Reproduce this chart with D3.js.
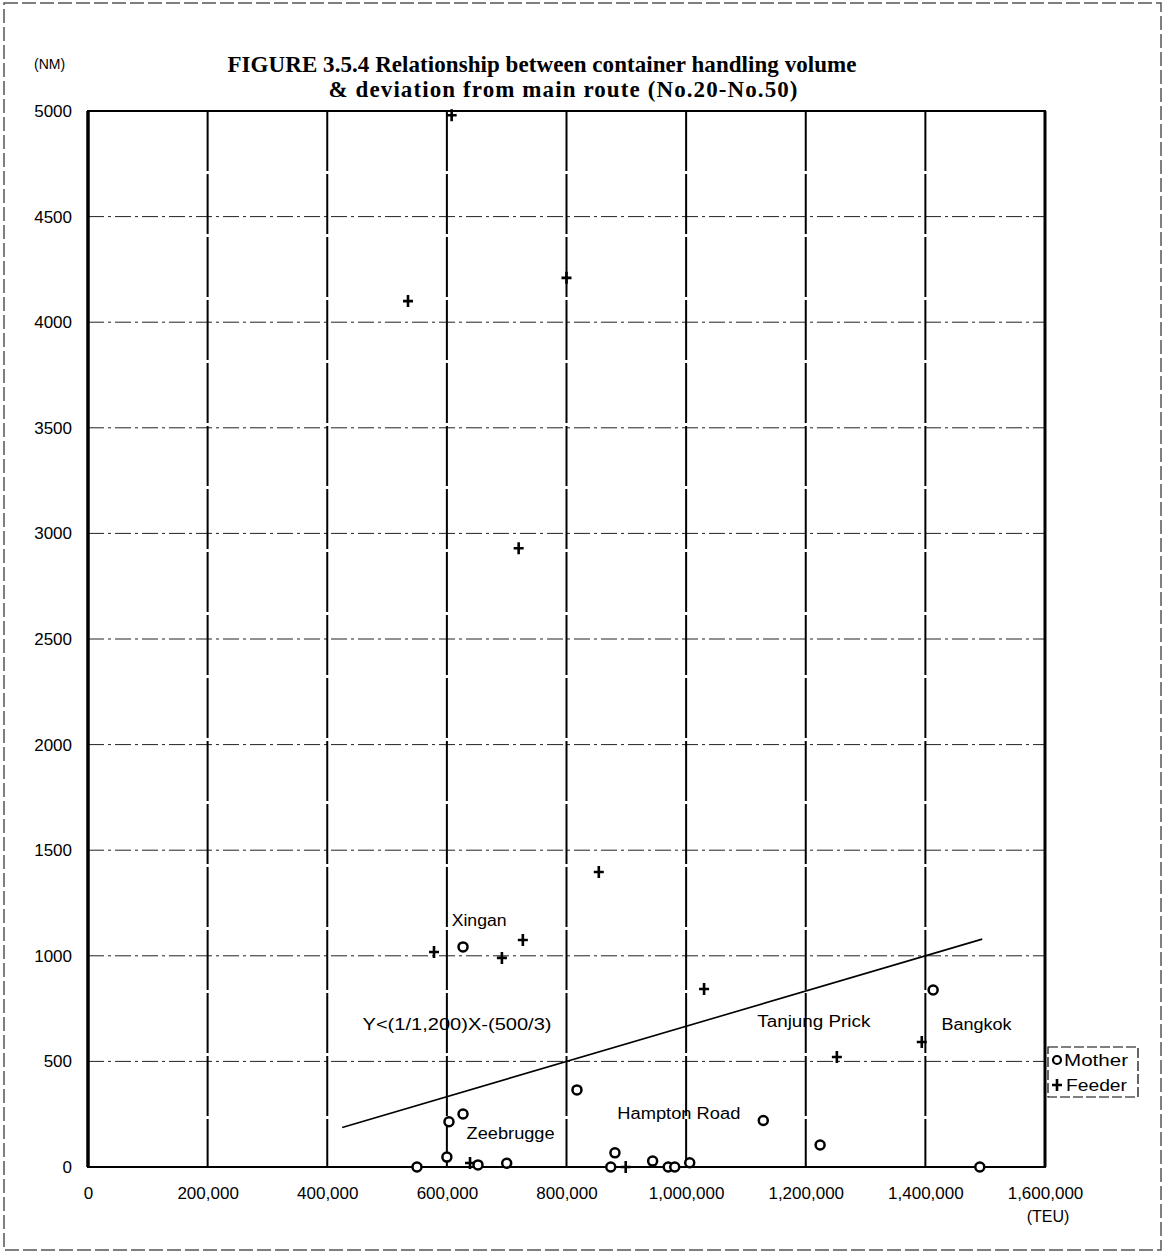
<!DOCTYPE html>
<html>
<head>
<meta charset="utf-8">
<script src="https://cdn.jsdelivr.net/npm/d3@7"></script>
<style>
  html, body { margin: 0; padding: 0; background: #fff; }
  svg { display: block; }
  .tick text { font-family: "Liberation Sans", Arial, sans-serif; }
</style>
</head>
<body>
<svg id="chart" width="1165" height="1253"></svg>
<script>
// values: TEU (x) vs deviation in NM (y)
const motherTEU = [627000, 817500, 603500, 627000, 600000, 550000, 652000, 700000, 881000,
  874000, 944000, 970000, 981000, 1006000, 1129000, 1224000, 1491000, 1413000];
const motherNM = [1042, 365, 214, 251, 47, 0, 10, 18, 67, 0, 28, 0, 0, 20, 220, 104, 0, 838];

const feederTEU = [535000, 608000, 800000, 720000, 854000, 578500, 692000, 727000, 1030000,
  1252000, 1394000, 638700, 899000];
const feederNM = [4100, 4980, 4210, 2930, 1397, 1018, 990, 1075, 843, 521, 592, 19, 0];

// Y<(1/1,200)X-(500/3), end points as drawn
const boundTEU = [425000, 1495000];
const boundNM = [187, 1079];

const xTicks = [0, 200000, 400000, 600000, 800000, 1000000, 1200000, 1400000, 1600000];
const yTicks = [0, 500, 1000, 1500, 2000, 2500, 3000, 3500, 4000, 4500, 5000];

const labelNames = ['Xingan', 'Y<(1/1,200)X-(500/3)', 'Zeebrugge', 'Hampton Road', 'Tanjung Prick', 'Bangkok'];
const labelTEU = [608000, 459000, 633000, 885000, 1119000, 1427000];
const labelNM = [1140, 650, 133, 225, 661, 650];

const title1 = 'FIGURE 3.5.4 Relationship between container handling volume';
const title2 = '& deviation from main route (No.20-No.50)';

const svg = d3.select('#chart');
const sans = '"Liberation Sans", Arial, sans-serif';
const serif = '"Liberation Serif", "Times New Roman", serif';
const plotL = 88, plotR = 1045, plotT = 111, plotB = 1167;
// the scan's label font runs wider than Arial, so stretch to the measured widths
const labelWidths = [55, 189, 88, 123, 113, 70];

const x = d3.scaleLinear().domain([0, 1600000]).range([plotL, plotR]);
const y = d3.scaleLinear().domain([0, 5000]).range([plotB, plotT]);

// page border of the scan
svg.append('rect')
  .attr('x', 4).attr('y', 3).attr('width', 1157).attr('height', 1247)
  .attr('fill', 'none').attr('stroke', '#555').attr('stroke-width', 1.5)
  .attr('stroke-dasharray', '14,4');

// title
svg.append('text')
  .attr('x', 542).attr('y', 72)
  .attr('text-anchor', 'middle')
  .attr('textLength', 629).attr('lengthAdjust', 'spacing')
  .style('font-family', serif)
  .style('font-weight', 'bold').style('font-size', '23px')
  .text(title1);
svg.append('text')
  .attr('x', 563).attr('y', 97)
  .attr('text-anchor', 'middle')
  .attr('textLength', 469).attr('lengthAdjust', 'spacing')
  .style('font-family', serif)
  .style('font-weight', 'bold').style('font-size', '23px')
  .text(title2);

svg.append('text')
  .attr('x', 34).attr('y', 69)
  .style('font-family', sans).style('font-size', '14px')
  .text('(NM)');

// grid
svg.append('g')
  .selectAll('line')
  .data(yTicks.filter(d => d > 0 && d < 5000))
  .join('line')
  .attr('x1', plotL).attr('x2', plotR)
  .attr('y1', d => y(d)).attr('y2', d => y(d))
  .attr('stroke', '#222').attr('stroke-width', 1)
  .attr('stroke-dasharray', '16,4,3,4');

svg.append('g')
  .selectAll('line')
  .data(xTicks.filter(d => d > 0 && d < 1600000))
  .join('line')
  .attr('x1', d => x(d)).attr('x2', d => x(d))
  .attr('y1', plotT).attr('y2', plotB)
  .attr('stroke', '#000').attr('stroke-width', 2)
  .attr('stroke-dasharray', '60,3');

// frame
svg.append('rect')
  .attr('x', plotL).attr('y', plotT).attr('width', plotR - plotL).attr('height', plotB - plotT)
  .attr('fill', 'none').attr('stroke', '#000').attr('stroke-width', 2);
svg.append('line')
  .attr('x1', plotL).attr('x2', plotL).attr('y1', plotT).attr('y2', plotB)
  .attr('stroke', '#000').attr('stroke-width', 3.5);
svg.append('line')
  .attr('x1', plotR).attr('x2', plotR).attr('y1', plotT).attr('y2', plotB)
  .attr('stroke', '#000').attr('stroke-width', 3);

// axes (labels only)
const yAxis = svg.append('g')
  .attr('transform', `translate(${plotL},0)`)
  .call(d3.axisLeft(y).tickValues(yTicks).tickFormat(d3.format('d')).tickSize(0).tickPadding(16));
const xAxis = svg.append('g')
  .attr('transform', `translate(0,${plotB})`)
  .call(d3.axisBottom(x).tickValues(xTicks).tickFormat(d3.format(',')).tickSize(0).tickPadding(20));
[yAxis, xAxis].forEach(g => {
  g.select('.domain').remove();
  g.selectAll('text').style('font-size', '17px').attr('fill', '#000');
});

svg.append('text')
  .attr('x', 1048).attr('y', 1222)
  .attr('text-anchor', 'middle')
  .style('font-family', sans).style('font-size', '16px')
  .text('(TEU)');

// boundary line
svg.append('line')
  .attr('x1', x(boundTEU[0])).attr('y1', y(boundNM[0]))
  .attr('x2', x(boundTEU[1])).attr('y2', y(boundNM[1]))
  .attr('stroke', '#000').attr('stroke-width', 1.6);

// port labels
svg.append('g')
  .selectAll('text')
  .data(labelNames)
  .join('text')
  .attr('x', (d, i) => x(labelTEU[i])).attr('y', (d, i) => y(labelNM[i]))
  .attr('textLength', (d, i) => labelWidths[i]).attr('lengthAdjust', 'spacingAndGlyphs')
  .style('font-family', sans).style('font-size', '16px')
  .text(d => d);

// markers
function drawPlus(g, cx, cy) {
  g.append('path')
    .attr('d', `M${cx - 5},${cy}H${cx + 5}M${cx},${cy - 6}V${cy + 6}`)
    .attr('stroke', '#000').attr('stroke-width', 2.6).attr('fill', 'none');
}
const marks = svg.append('g');
motherTEU.forEach((v, i) => {
  marks.append('circle')
    .attr('cx', x(v)).attr('cy', y(motherNM[i])).attr('r', 4.5)
    .attr('fill', '#fff').attr('stroke', '#000').attr('stroke-width', 2.5);
});
feederTEU.forEach((v, i) => drawPlus(marks, x(v), y(feederNM[i])));

// legend
const lg = svg.append('g');
lg.append('rect')
  .attr('x', 1048).attr('y', 1047).attr('width', 90).attr('height', 50)
  .attr('fill', '#fff').attr('stroke', '#000').attr('stroke-width', 1.2)
  .attr('stroke-dasharray', '10,3');
lg.append('circle').attr('cx', 1057).attr('cy', 1060).attr('r', 4)
  .attr('fill', '#fff').attr('stroke', '#000').attr('stroke-width', 2.2);
drawPlus(lg, 1057, 1085);
lg.append('text').attr('x', 1064).attr('y', 1066)
  .attr('textLength', 64).attr('lengthAdjust', 'spacingAndGlyphs')
  .style('font-family', sans).style('font-size', '16px').text('Mother');
lg.append('text').attr('x', 1066).attr('y', 1091)
  .attr('textLength', 61).attr('lengthAdjust', 'spacingAndGlyphs')
  .style('font-family', sans).style('font-size', '16px').text('Feeder');
</script>
</body>
</html>
